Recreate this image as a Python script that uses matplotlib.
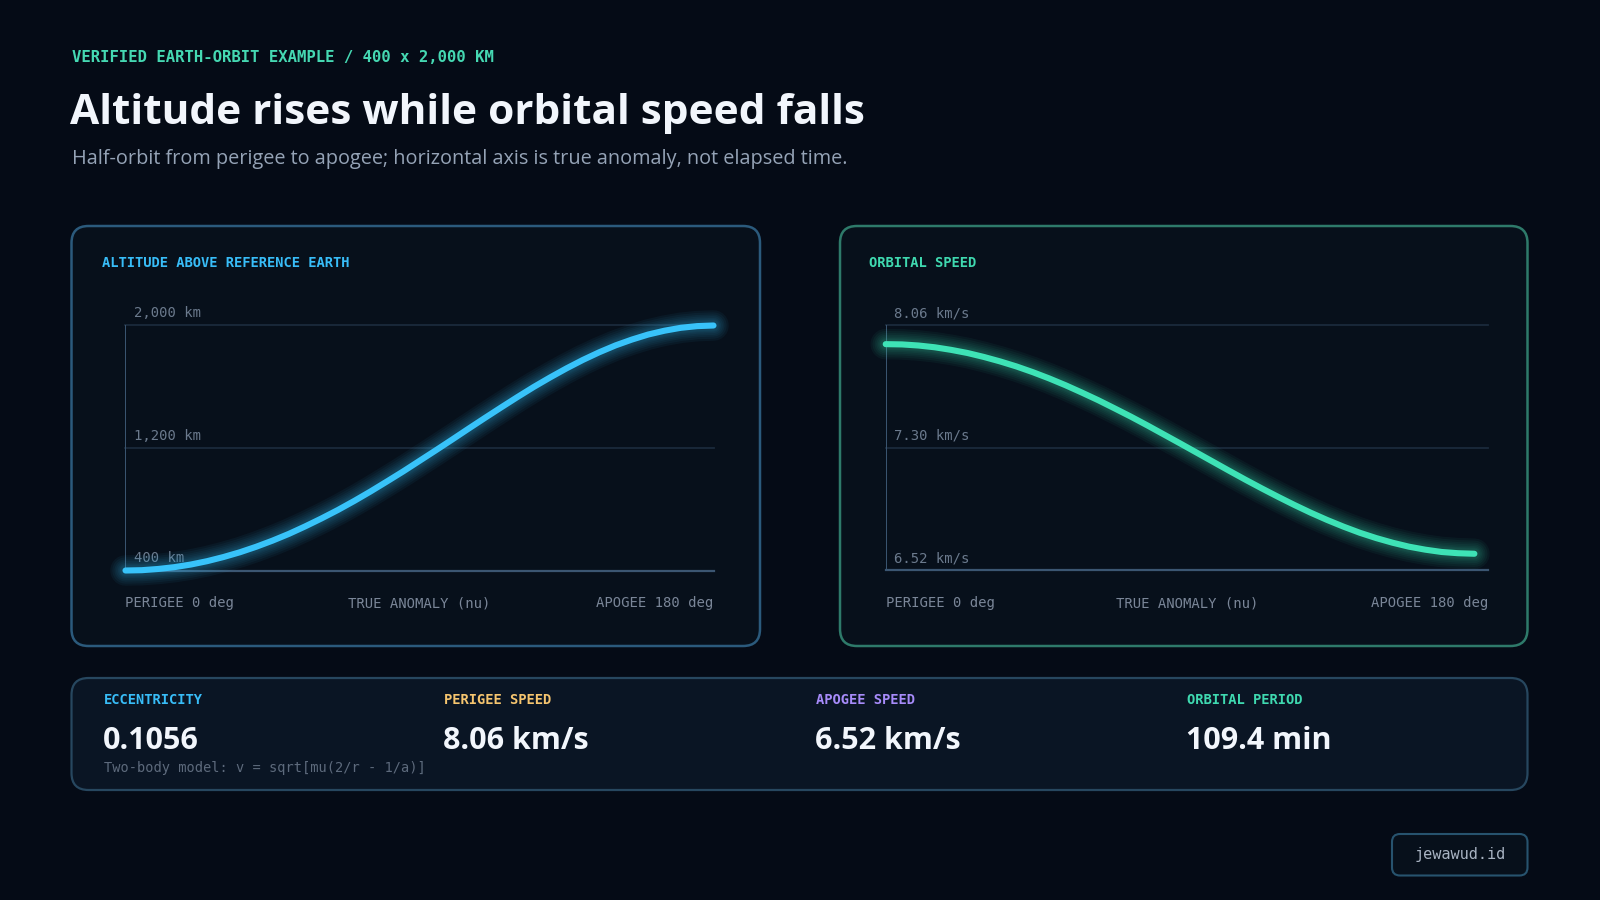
import matplotlib
matplotlib.use("Agg")
import matplotlib.pyplot as plt
from matplotlib.patches import FancyBboxPatch

# data (true anomaly in deg, altitude km, speed km/s)
nu_deg = [0, 5, 10, 15, 20, 25, 30, 35, 40, 45, 50, 55, 60, 65, 70, 75, 80, 85, 90,
          95, 100, 105, 110, 115, 120, 125, 130, 135, 140, 145, 150, 155, 160, 165, 170, 175, 180]
altitude_km = [400, 402, 410, 422, 439, 461, 488, 519, 555, 595, 639, 688, 740, 795, 854, 916, 981, 1047, 1116,
               1185, 1255, 1326, 1396, 1465, 1533, 1599, 1661, 1720, 1775, 1825, 1870, 1908, 1941, 1966, 1985,
               1996, 2000]
speed_kms = [8.063, 8.061, 8.053, 8.040, 8.021, 7.998, 7.969, 7.936, 7.899, 7.857, 7.811, 7.761, 7.707, 7.651,
             7.591, 7.530, 7.466, 7.400, 7.334, 7.267, 7.200, 7.133, 7.067, 7.003, 6.941, 6.881, 6.824, 6.771,
             6.722, 6.677, 6.638, 6.604, 6.575, 6.553, 6.536, 6.527, 6.523]

alt_grid = [400, 1200, 2000]
alt_labels = ["400 km", "1,200 km", "2,000 km"]
speed_grid = [6.40, 7.30, 8.20]
speed_labels = ["6.52 km/s", "7.30 km/s", "8.06 km/s"]

stat_names = ["ECCENTRICITY", "PERIGEE SPEED", "APOGEE SPEED", "ORBITAL PERIOD"]
stat_values = ["0.1056", "8.06 km/s", "6.52 km/s", "109.4 min"]
stat_colors = ["#38bdf8", "#f6c56f", "#a78bfa", "#3fd9b0"]

BG = "#050b16"
MONO = "DejaVu Sans Mono"
SANS = "Open Sans"
BLUE = "#38c3fa"
MINT = "#3ee3b6"

fig = plt.figure(figsize=(16, 9), dpi=100)
fig.patch.set_facecolor(BG)

# background canvas in pixel units
bg = fig.add_axes([0, 0, 1, 1])
bg.set_xlim(0, 1600)
bg.set_ylim(900, 0)
bg.axis("off")
bg.set_zorder(0)


def box(x0, y0, x1, y1, r, fc, ec, lw=1.6):
    p = FancyBboxPatch((x0, y0), x1 - x0, y1 - y0, boxstyle="round,pad=0,rounding_size=%d" % r,
                       fc=fc, ec=ec, lw=lw)
    bg.add_patch(p)


# header
bg.text(71.5, 58, "VERIFIED EARTH-ORBIT EXAMPLE / 400 x 2,000 KM", family=MONO, weight="bold",
        fontsize=11.25, color="#45d8b2", va="center", ha="left")
bg.text(70, 113, "Altitude rises while orbital speed falls", family=SANS, weight="bold",
        fontsize=30.5, color="#f2f6fc", va="center", ha="left")
bg.text(71.5, 159, "Half-orbit from perigee to apogee; horizontal axis is true anomaly, not elapsed time.",
        family=SANS, fontsize=14.3, color="#95a3b6", va="center", ha="left")

# panels
box(71.5, 226, 760, 646, 17, "#07101b", "#2b5a7c", 1.8)
box(840, 226, 1527.5, 646, 17, "#07101b", "#2e7a6a", 1.8)
bg.text(102, 263, "ALTITUDE ABOVE REFERENCE EARTH", family=MONO, weight="bold", fontsize=9.9,
        color="#38bdf8", va="center")
bg.text(869, 263, "ORBITAL SPEED", family=MONO, weight="bold", fontsize=9.9, color="#3fd9b0", va="center")

# stats strip
box(71.5, 678, 1527.5, 790, 17, "#0a1524", "#27475f", 1.6)
stat_x = [104, 444, 816, 1187]
for x, name, val, c in zip(stat_x, stat_names, stat_values, stat_colors):
    bg.text(x, 700, name, family=MONO, weight="bold", fontsize=9.9, color=c, va="center")
    bg.text(x - 1, 741, val, family=SANS, weight="bold", fontsize=22, color="#f2f6fc", va="center")
bg.text(104, 768, "Two-body model: v = sqrt[mu(2/r - 1/a)]", family=MONO, fontsize=9.8,
        color="#5d6a7c", va="center")

# watermark
box(1392, 834, 1527.5, 875.5, 8, "#07101b", "#27536e", 1.5)
bg.text(1460, 855, "jewawud.id", family=MONO, fontsize=11, color="#a8b3c2", va="center", ha="center")


def chart(rect, xs, ys, grid, labels, color, xmax):
    ax = fig.add_axes([rect[0] / 1600, 1 - rect[3] / 900, (rect[2] - rect[0]) / 1600, (rect[3] - rect[1]) / 900])
    ax.set_zorder(2)
    ax.patch.set_alpha(0)
    ax.set_xlim(0, xmax)
    ax.set_ylim(grid[0], grid[-1])
    for s in ax.spines.values():
        s.set_visible(False)
    ax.set_xticks([])
    ax.set_yticks([])
    for i, g in enumerate(grid):
        ax.axhline(g, color="#3b5672" if i == 0 else "#1a2a3c", lw=1.6 if i == 0 else 1.3, zorder=1,
                   clip_on=False)
        ax.annotate(labels[i], xy=(0, g), xycoords=("axes fraction", "data"), xytext=(8, 12),
                    textcoords="offset pixels", family=MONO, fontsize=10, color="#6b7a8d", va="center")
    ax.axvline(0, color="#3b5672", lw=1.4, zorder=1)
    # soft glow: stacked translucent strokes
    for lw in [22, 19, 16, 13.5, 11, 9, 7.5]:
        ax.plot(xs, ys, color=color, lw=lw, alpha=0.05, solid_capstyle="round", solid_joinstyle="round",
                clip_on=False, zorder=3)
    ax.plot(xs, ys, color=color, lw=4.4, solid_capstyle="round", solid_joinstyle="round",
            clip_on=False, zorder=4)
    for xf, txt, ha in [(0, "PERIGEE 0 deg", "left"), (0.5, "TRUE ANOMALY (nu)", "center"),
                        (1, "APOGEE 180 deg", "right")]:
        ax.annotate(txt, xy=(xf, 0), xycoords="axes fraction", xytext=(0, -33), textcoords="offset pixels",
                    family=MONO, fontsize=10, color="#7a8698", ha=ha, va="center")
    return ax


chart((125.5, 325.5, 713.5, 570.5), nu_deg, altitude_km, alt_grid, alt_labels, BLUE, 180)
chart((885.7, 325.5, 1487.8, 570.5), nu_deg, speed_kms, speed_grid, speed_labels, MINT, 184.1)

fig.savefig("out.png", dpi=100, facecolor=BG)
